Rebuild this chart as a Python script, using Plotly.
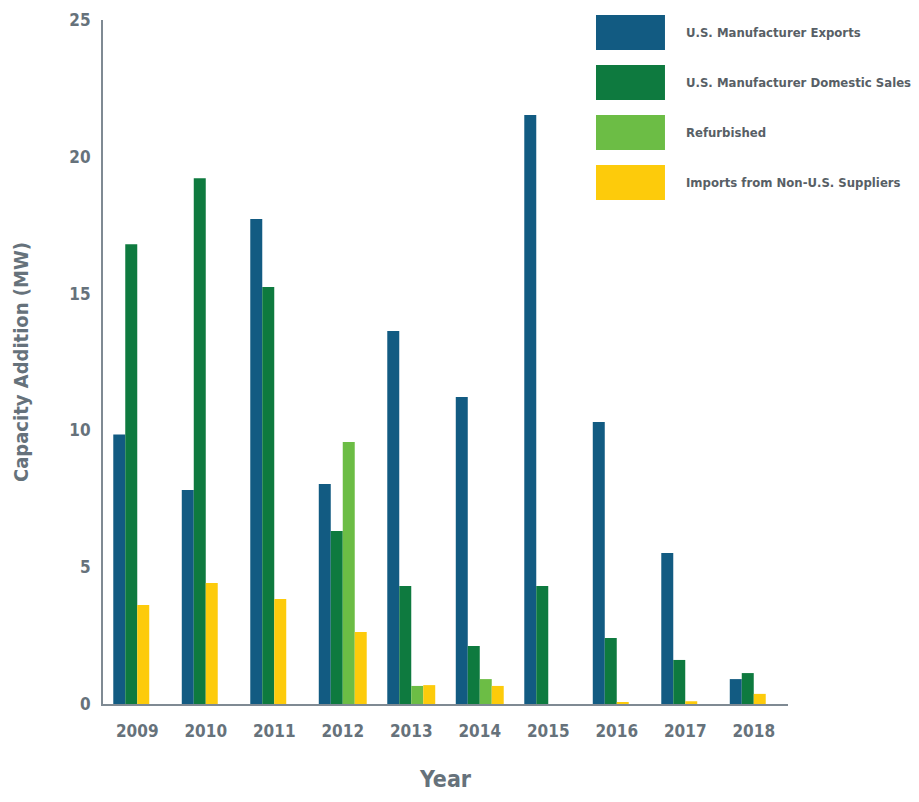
import plotly.graph_objects as go

years = ["2009", "2010", "2011", "2012", "2013", "2014", "2015", "2016", "2017", "2018"]

exports = [9.85, 7.82, 17.73, 8.04, 13.63, 11.22, 21.53, 10.31, 5.52, 0.91]
domestic = [16.8, 19.22, 15.24, 6.32, 4.31, 2.12, 4.31, 2.41, 1.61, 1.13]
refurbished = [None, None, None, 9.58, 0.66, 0.91, None, None, None, None]
imports = [3.62, 4.42, 3.84, 2.63, 0.69, 0.66, None, 0.05, 0.1, 0.37]

names = [
    "U.S. Manufacturer Exports",
    "U.S. Manufacturer Domestic Sales",
    "Refurbished",
    "Imports from Non-U.S. Suppliers",
]
colors = ["#125b82", "#0e7a3f", "#6cbd45", "#fdcb0b"]
series = [exports, domestic, refurbished, imports]

FONT = "DejaVu Sans Condensed, Lato, sans-serif"
GREY = "#66727b"
bar_w = 0.175

# bars are packed to the left of each year group (missing series leave no gap)
offsets = [[0.0] * len(years) for _ in series]
for i in range(len(years)):
    slot = 0
    for s, vals in enumerate(series):
        if vals[i] is not None:
            offsets[s][i] = -2 * bar_w + slot * bar_w
            slot += 1

fig = go.Figure()
for s, vals in enumerate(series):
    fig.add_trace(
        go.Bar(
            x=years,
            y=vals,
            name=names[s],
            width=bar_w,
            offset=offsets[s],
            marker=dict(color=colors[s], line=dict(width=0)),
            showlegend=False,
        )
    )

# custom legend with large swatches
for s, name in enumerate(names):
    top = 1.0073 - s * 0.0731
    fig.add_shape(
        type="rect", xref="paper", yref="paper",
        x0=0.7197, x1=0.8204, y0=top - 0.0512, y1=top,
        fillcolor=colors[s], line=dict(width=0),
    )
    fig.add_annotation(
        xref="paper", yref="paper", x=0.848, y=top - 0.0256,
        text=name, showarrow=False, xanchor="left", yanchor="middle",
        font=dict(family=FONT, size=13, color="#585f66", weight="bold"),
    )

# x axis title
fig.add_annotation(
    xref="paper", yref="paper", x=0.5, y=-0.109,
    text="Year", showarrow=False, xanchor="center", yanchor="middle",
    font=dict(family=FONT, size=23, color=GREY, weight="bold"),
)

fig.update_layout(
    width=903,
    height=786,
    margin=dict(l=95, r=123, t=12, b=90),
    paper_bgcolor="white",
    plot_bgcolor="white",
    barmode="overlay",
    xaxis=dict(
        type="category",
        range=[-0.5, 9.5],
        automargin=False,
        showline=True,
        linecolor="#7f8a93",
        linewidth=2,
        showgrid=False,
        ticks="outside",
        ticklen=11,
        tickcolor="rgba(0,0,0,0)",
        tickfont=dict(family=FONT, size=17, color=GREY, weight="bold"),
    ),
    yaxis=dict(
        range=[0, 25],
        automargin=False,
        tickvals=[0, 5, 10, 15, 20, 25],
        showline=True,
        linecolor="#7f8a93",
        linewidth=2,
        showgrid=False,
        zeroline=False,
        ticks="outside",
        ticklen=7,
        tickcolor="rgba(0,0,0,0)",
        tickfont=dict(family=FONT, size=17, color=GREY, weight="bold"),
        title=dict(
            text="Capacity Addition (MW)",
            standoff=35,
            font=dict(family=FONT, size=20, color=GREY, weight="bold"),
        ),
    ),
)

fig.write_html("out.html")
